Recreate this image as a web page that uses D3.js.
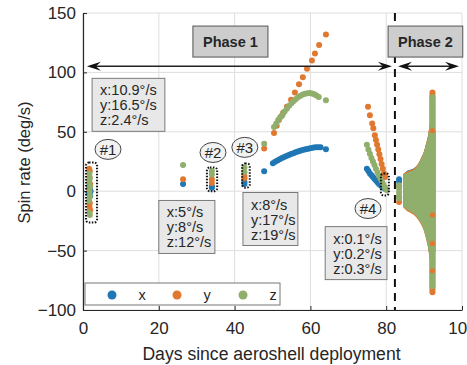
<!DOCTYPE html>
<html>
<head>
<meta charset="utf-8">
<script src="https://cdn.jsdelivr.net/npm/d3@7"></script>
<style>
  body { margin: 0; background: #fff; }
  text { font-family: "Liberation Sans", Arial, Helvetica, sans-serif; fill: #262626; }
</style>
</head>
<body>
<svg id="chart" width="467" height="365"></svg>
<script>
// ---- data (days since deployment, spin rate deg/s) ----
const xTicks = [0, 20, 40, 60, 80, 100];
const yTicks = [-100, -50, 0, 50, 100, 150];

const spinX = [
  [1.6, 3], [1.8, 1], [1.5, -2], [2.0, 0], [1.7, 5], [1.9, -4],
  [26.4, 6], [34.0, 3], [34.0, 4],
  [42.6, 6], [42.6, 8],
  [47.8, 16.7],
  [50.1, 23.5], [50.7, 24.8], [51.3, 25.9], [51.9, 26.9], [52.5, 27.9], [53.1, 28.8], [53.7, 29.7],
  [54.3, 30.5], [54.9, 31.3], [55.5, 32.0], [56.1, 32.7], [56.7, 33.4], [57.3, 34.0], [57.9, 34.6],
  [58.5, 35.1], [59.1, 35.6], [59.7, 36.0], [60.3, 36.4], [60.9, 36.7], [61.5, 36.9], [62.1, 37.0],
  [62.7, 36.9], [64.1, 35.4],
  [74.9, 19], [75.3, 17], [75.7, 15], [76.1, 13.5], [76.5, 12], [76.9, 10.5], [77.3, 9], [77.7, 7.5],
  [78.1, 6], [78.5, 5], [78.9, 4], [79.3, 3], [79.7, 2],
  [83.4, 10], [83.4, 8]
];
const spinY = [
  [1.6, 19], [1.8, 17], [1.7, 12], [1.9, 6], [1.6, 2], [1.8, -10], [1.7, -13], [1.9, -16],
  [26.4, 10], [34.0, 10], [34.0, 7],
  [42.6, 13], [42.6, 11],
  [47.8, 36],
  [50.4, 49], [51.1, 55], [51.7, 60], [52.3, 63], [52.8, 66], [53.8, 71], [54.9, 77], [55.9, 83],
  [57.0, 90], [58.0, 96], [59.1, 103], [60.4, 110], [61.2, 116], [62.3, 123], [64.1, 132],
  [75.2, 71], [75.7, 64], [76.3, 57], [76.6, 53], [77.0, 47], [77.3, 43], [77.6, 39], [77.9, 35],
  [78.2, 31], [78.5, 27], [78.8, 23], [79.1, 19], [79.4, 15], [79.7, 12],
  [83.4, -9], [83.4, -5], [83.4, 4]
];
const spinZ = [
  [1.7, 15], [1.8, 11], [1.6, 8], [1.9, 4], [1.7, 0], [1.8, -4], [1.6, -8], [1.8, -20], [1.7, -18],
  [26.4, 22], [34.0, 17], [34.0, 14],
  [42.6, 20], [42.6, 16],
  [47.8, 40],
  [50.4, 54], [51.0, 57], [51.5, 60], [52.0, 62], [52.6, 64], [53.2, 67], [53.8, 69.5], [54.4, 72],
  [55.0, 74], [55.6, 76], [56.2, 77.7], [56.8, 79.2], [57.4, 80.4], [58.0, 81.4], [58.6, 82.1],
  [59.2, 82.5], [59.8, 82.6], [60.4, 82.3], [61.0, 81.6], [61.6, 80.6], [62.2, 79.3], [64.1, 76.5],
  [74.9, 39], [75.3, 35], [75.7, 31.5], [76.1, 28], [76.5, 25], [76.9, 22], [77.3, 19], [77.7, 16],
  [78.1, 13], [78.5, 10.5], [78.9, 8], [79.3, 5.5], [79.7, 3], [80.1, 1],
  [83.4, 5], [83.4, 2], [83.4, -1], [83.4, -4], [83.4, -6]
];

// phase 2 oscillation envelope (dense scatter, drawn as band)
const bandDays   = [85.0, 85.5, 86.5, 87.6, 88.7, 89.7, 90.4, 91.0, 91.5, 91.8, 92.0];
const bandTopX   = [13, 15, 16.5, 18, 21, 27, 32, 39, 45, 51, 55];
const bandBotX   = [-11, -13, -15, -17, -21, -26, -31, -38, -45, -51, -55];
const bandTopY   = [14, 14.5, 16, 17.5, 21.5, 27.5, 32.5, 39.5, 46, 52, 56];
const bandBotY   = [-13, -14.5, -16.5, -18.5, -22.5, -27.5, -32.5, -39.5, -46.5, -52.5, -56.5];
const bandTopZ   = [13, 13.5, 15, 16.5, 20.5, 26.5, 31.5, 38.5, 44.5, 50.5, 54.5];
const bandBotZ   = [-12, -13.5, -15.5, -17.5, -21.5, -26.5, -31.5, -38.5, -45.5, -51.5, -55.5];

// last dense column of phase 2
const columnDay = 92.2;
const columnX = [-50, 50];
const columnY = [-85, 83];
const columnZ = [-80, 79];
const columnYSpeckles = [51, -20, -44, -67];

const seriesNames = ['x', 'y', 'z'];
const seriesColors = ['#1f77b4', '#e0782f', '#90ae6c'];

// ---- layout ----
const svg = d3.select('#chart');
const margin = { top: 13, right: 5, bottom: 55, left: 83 };
const W = 467, H = 365;
const x = d3.scaleLinear().domain([0, 100]).range([margin.left, W - margin.right]);
const y = d3.scaleLinear().domain([-100, 150]).range([H - margin.bottom, margin.top]);

// grid
svg.append('g').selectAll('line.gx').data(xTicks).enter().append('line')
  .attr('x1', d => x(d)).attr('x2', d => x(d))
  .attr('y1', y(-100)).attr('y2', y(150))
  .attr('stroke', '#dedede').attr('stroke-width', 1);
svg.append('g').selectAll('line.gy').data(yTicks).enter().append('line')
  .attr('x1', x(0)).attr('x2', x(100))
  .attr('y1', d => y(d)).attr('y2', d => y(d))
  .attr('stroke', '#dedede').attr('stroke-width', 1);

// axes
const xAxis = svg.append('g')
  .attr('transform', `translate(0,${y(-100)})`)
  .call(d3.axisBottom(x).tickValues(xTicks).tickSize(-4).tickSizeOuter(0).tickPadding(12));
const yAxis = svg.append('g')
  .attr('transform', `translate(${x(0)},0)`)
  .call(d3.axisLeft(y).tickValues(yTicks).tickSize(-4).tickSizeOuter(0).tickPadding(7));
[xAxis, yAxis].forEach(a => {
  a.selectAll('.domain').attr('stroke', '#262626').attr('stroke-width', 1.2);
  a.selectAll('.tick line').attr('stroke', '#262626');
  a.selectAll('.tick text').attr('font-size', 17).attr('fill', '#262626')
    .style('font-family', '"Liberation Sans", Arial, sans-serif');
});

svg.append('text')
  .attr('x', (x(0) + x(100)) / 2 - 1).attr('y', 360)
  .attr('text-anchor', 'middle').attr('font-size', 17.6)
  .text('Days since aeroshell deployment');
svg.append('text')
  .attr('transform', `translate(30,${(y(-100) + y(150)) / 2 + 1}) rotate(-90)`)
  .attr('text-anchor', 'middle').attr('font-size', 16.5)
  .text('Spin rate (deg/s)');

// ---- data marks ----
const plot = svg.append('g');
const bands = [
  [bandTopX, bandBotX], [bandTopY, bandBotY], [bandTopZ, bandBotZ]
];
const columns = [columnX, columnY, columnZ];
const scatters = [spinX, spinY, spinZ];

seriesNames.forEach((name, i) => {
  const area = d3.area()
    .x((d, k) => x(bandDays[k]))
    .y0((d, k) => y(bands[i][1][k]))
    .y1((d, k) => y(bands[i][0][k]))
    .curve(d3.curveMonotoneX);
  plot.append('path')
    .datum(bandDays)
    .attr('d', area)
    .attr('fill', seriesColors[i])
    .attr('stroke', seriesColors[i])
    .attr('stroke-width', 4)
    .attr('stroke-linejoin', 'round');

  plot.append('line')
    .attr('x1', x(columnDay)).attr('x2', x(columnDay))
    .attr('y1', y(columns[i][0])).attr('y2', y(columns[i][1]))
    .attr('stroke', seriesColors[i]).attr('stroke-width', 6)
    .attr('stroke-linecap', 'round');

  plot.append('g').selectAll('circle')
    .data(scatters[i]).enter().append('circle')
    .attr('cx', d => x(d[0])).attr('cy', d => y(d[1]))
    .attr('r', 3)
    .attr('fill', seriesColors[i]);
});
plot.append('g').selectAll('circle')
  .data(columnYSpeckles).enter().append('circle')
  .attr('cx', x(columnDay)).attr('cy', d => y(d)).attr('r', 2.6)
  .attr('fill', seriesColors[1]);

// ---- annotations ----
const phaseSplit = 82.3;
const arrowLevel = 105.1;

svg.append('line')
  .attr('x1', x(phaseSplit)).attr('x2', x(phaseSplit))
  .attr('y1', y(150)).attr('y2', y(-100))
  .attr('stroke', '#111').attr('stroke-width', 2).attr('stroke-dasharray', '8,6');

function arrowHead(tipX, tipY, dir) {
  // dir: +1 points right, -1 points left
  const L = 14, h = 4.5, notch = 9;
  return `M${tipX},${tipY} L${tipX - dir * L},${tipY - h} L${tipX - dir * notch},${tipY} L${tipX - dir * L},${tipY + h} Z`;
}
function doubleArrow(d0, d1) {
  const ax0 = x(d0) + 2, ax1 = x(d1) - 3, ay = y(arrowLevel);
  svg.append('line').attr('x1', ax0 + 5).attr('x2', ax1 - 5)
    .attr('y1', ay).attr('y2', ay).attr('stroke', '#222').attr('stroke-width', 1.5);
  svg.append('path').attr('d', arrowHead(ax0, ay, -1)).attr('fill', '#111');
  svg.append('path').attr('d', arrowHead(ax1, ay, 1)).attr('fill', '#111');
}
doubleArrow(0.5, phaseSplit);
doubleArrow(phaseSplit + 0.3, 100);

const phaseBoxes = [
  { d0: 29.0, d1: 48.8, label: 'Phase 1' },
  { d0: 80.5, d1: 100.2, label: 'Phase 2' }
];
phaseBoxes.forEach(b => {
  svg.append('rect')
    .attr('x', x(b.d0)).attr('y', y(139)).attr('width', x(b.d1) - x(b.d0)).attr('height', 31)
    .attr('fill', '#cdcdcd').attr('stroke', '#555').attr('stroke-width', 1);
  svg.append('text')
    .attr('x', (x(b.d0) + x(b.d1)) / 2).attr('y', y(139) + 21)
    .attr('text-anchor', 'middle').attr('font-size', 14.5).attr('font-weight', 'bold')
    .attr('fill', '#111').text(b.label);
});

const noteBoxes = [
  { d0: 2.4, d1: 21.6, top: 95, lines: ['x:10.9°/s', 'y:16.5°/s', 'z:2.4°/s'] },
  { d0: 20.0, d1: 34.8, top: -7.8, lines: ['x:5°/s', 'y:8°/s', 'z:12°/s'] },
  { d0: 42.2, d1: 56.7, top: -1.1, lines: ['x:8°/s', 'y:17°/s', 'z:19°/s'] },
  { d0: 63.9, d1: 80.2, top: -29.8, lines: ['x:0.1°/s', 'y:0.2°/s', 'z:0.3°/s'] }
];
noteBoxes.forEach(b => {
  const bx = x(b.d0), by = y(b.top);
  svg.append('rect')
    .attr('x', bx).attr('y', by).attr('width', x(b.d1) - bx).attr('height', 53)
    .attr('fill', '#e8e8e8').attr('stroke', '#7a7a7a').attr('stroke-width', 1);
  b.lines.forEach((t, k) => {
    svg.append('text').attr('x', bx + 8).attr('y', by + 17 + k * 15)
      .attr('font-size', 14.5).text(t);
  });
});

const groups = [
  { label: '#1', cx: 6.6, cy: 35.2, box: [0.8, 3.7, 24.2, -26.4] },
  { label: '#2', cx: 34.3, cy: 32.6, box: [32.7, 35.4, 20, 0] },
  { label: '#3', cx: 42.7, cy: 36.9, box: [42.0, 44.0, 23.4, 3] },
  { label: '#4', cx: 75.2, cy: -14.6, box: [78.6, 80.7, 15, -3.6] }
];
groups.forEach(g => {
  svg.append('rect')
    .attr('x', x(g.box[0])).attr('y', y(g.box[2]))
    .attr('width', x(g.box[1]) - x(g.box[0])).attr('height', y(g.box[3]) - y(g.box[2]))
    .attr('rx', 3).attr('fill', 'none').attr('stroke', '#111')
    .attr('stroke-width', 2).attr('stroke-dasharray', '1.5,1.5');
  svg.append('ellipse')
    .attr('cx', x(g.cx)).attr('cy', y(g.cy)).attr('rx', 13).attr('ry', 10)
    .attr('fill', '#f2f2f2').attr('stroke', '#444').attr('stroke-width', 1);
  svg.append('text')
    .attr('x', x(g.cx)).attr('y', y(g.cy) + 5.5)
    .attr('text-anchor', 'middle').attr('font-size', 15).text(g.label);
});

// ---- legend ----
const legend = svg.append('g').attr('transform', 'translate(85,283)');
legend.append('rect').attr('width', 195).attr('height', 22)
  .attr('fill', '#fff').attr('stroke', '#777').attr('stroke-width', 1);
const legendDot = [27, 92, 158];
seriesNames.forEach((name, i) => {
  legend.append('circle').attr('cx', legendDot[i]).attr('cy', 12).attr('r', 4.5)
    .attr('fill', seriesColors[i]);
  legend.append('text').attr('x', legendDot[i] + 30).attr('y', 17)
    .attr('text-anchor', 'middle').attr('font-size', 14.5).text(name);
});
</script>
</body>
</html>
